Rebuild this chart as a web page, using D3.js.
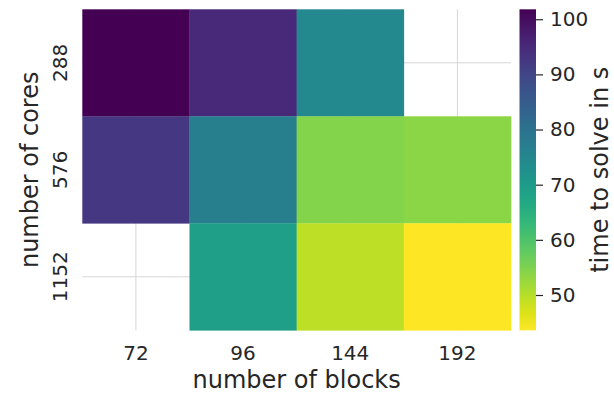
<!DOCTYPE html>
<html>
<head>
<meta charset="utf-8">
<script src="https://cdn.jsdelivr.net/npm/d3@7"></script>
<style>
  html, body { margin: 0; padding: 0; background: #fff; }
  svg { display: block; font-family: "DejaVu Sans", sans-serif; }
</style>
</head>
<body>
<svg id="chart" width="614" height="394"></svg>
<script>
// Solve time (s) by number of blocks (columns) and number of cores (rows); null = not run
const blocks = ["72", "96", "144", "192"];
const cores = ["288", "576", "1152"];
const timesCores288 = [101.8, 95.0, 74.4, null];
const timesCores576 = [92.5, 76.8, 54.4, 53.8];
const timesCores1152 = [null, 69.2, 49.4, 43.6];
const colorbarTicks = [50, 60, 70, 80, 90, 100];

const rows = [timesCores288, timesCores576, timesCores1152];
const cells = [];
rows.forEach((vals, i) => vals.forEach((v, j) => {
  if (v != null) cells.push({ core: cores[i], block: blocks[j], value: v });
}));

const allValues = cells.map(d => d.value);
const vmin = d3.min(allValues), vmax = d3.max(allValues);

const svg = d3.select("#chart");
const textColor = "#262626";

const plot = { left: 82.3, right: 511, top: 9.3, bottom: 330.3 };

const x = d3.scaleBand().domain(blocks).range([plot.left, plot.right]).padding(0);
const y = d3.scaleBand().domain(cores).range([plot.top, plot.bottom]).padding(0);

// reversed viridis: long times dark, short times bright
const color = d3.scaleSequential(t => d3.interpolateViridis(1 - t)).domain([vmin, vmax]);

// grid lines through the cell centres
const grid = svg.append("g").attr("stroke", "#d6d6d6").attr("stroke-width", 1);
grid.selectAll("line.v").data(blocks).join("line")
  .attr("x1", d => x(d) + x.bandwidth() / 2).attr("x2", d => x(d) + x.bandwidth() / 2)
  .attr("y1", plot.top).attr("y2", plot.bottom);
grid.selectAll("line.h").data(cores).join("line")
  .attr("y1", d => y(d) + y.bandwidth() / 2).attr("y2", d => y(d) + y.bandwidth() / 2)
  .attr("x1", plot.left).attr("x2", plot.right);

// heatmap cells
svg.append("g").selectAll("rect").data(cells).join("rect")
  .attr("x", d => x(d.block)).attr("y", d => y(d.core))
  .attr("width", x.bandwidth() + 0.3).attr("height", y.bandwidth() + 0.3)
  .attr("fill", d => color(d.value));

// x axis
const xAxis = svg.append("g")
  .attr("transform", `translate(0,${plot.bottom})`)
  .call(d3.axisBottom(x).tickSize(0).tickPadding(16));
xAxis.select(".domain").remove();
xAxis.selectAll("text").attr("font-size", 20).attr("fill", textColor)
  .attr("font-family", "DejaVu Sans");

// y axis with vertical labels
const yAxis = svg.append("g")
  .attr("transform", `translate(${plot.left},0)`)
  .call(d3.axisLeft(y).tickSize(0));
yAxis.select(".domain").remove();
yAxis.selectAll("text")
  .attr("font-size", 20).attr("fill", textColor).attr("font-family", "DejaVu Sans")
  .attr("transform", "rotate(-90)")
  .attr("x", 0).attr("y", -15).attr("dy", 0)
  .attr("text-anchor", "middle");

// axis titles
svg.append("text")
  .attr("x", (plot.left + plot.right) / 2).attr("y", 388)
  .attr("text-anchor", "middle").attr("font-size", 24).attr("fill", textColor)
  .text("number of blocks");
svg.append("text")
  .attr("transform", `translate(38,${(plot.top + plot.bottom) / 2}) rotate(-90)`)
  .attr("text-anchor", "middle").attr("font-size", 24).attr("fill", textColor)
  .text("number of cores");

// colour bar
const cb = { x: 519.5, width: 16.5 };
const cbScale = d3.scaleLinear().domain([vmin, vmax]).range([plot.bottom, plot.top]);
const defs = svg.append("defs");
const grad = defs.append("linearGradient").attr("id", "cbgrad")
  .attr("x1", 0).attr("y1", 1).attr("x2", 0).attr("y2", 0);
d3.range(0, 1.0001, 0.05).forEach(t => {
  grad.append("stop").attr("offset", t)
    .attr("stop-color", color(vmin + t * (vmax - vmin)));
});
svg.append("rect")
  .attr("x", cb.x).attr("y", plot.top)
  .attr("width", cb.width).attr("height", plot.bottom - plot.top)
  .attr("fill", "url(#cbgrad)");

const cbAxis = svg.append("g")
  .attr("transform", `translate(${cb.x + cb.width},0)`)
  .call(d3.axisRight(cbScale).tickValues(colorbarTicks).tickSize(7).tickPadding(7));
cbAxis.select(".domain").remove();
cbAxis.selectAll("line").attr("stroke", textColor).attr("stroke-width", 1.2);
cbAxis.selectAll("text").attr("font-size", 20).attr("fill", textColor)
  .attr("font-family", "DejaVu Sans");

svg.append("text")
  .attr("transform", `translate(607.5,${(plot.top + plot.bottom) / 2}) rotate(-90)`)
  .attr("text-anchor", "middle").attr("font-size", 24).attr("fill", textColor)
  .text("time to solve in s");
</script>
</body>
</html>
